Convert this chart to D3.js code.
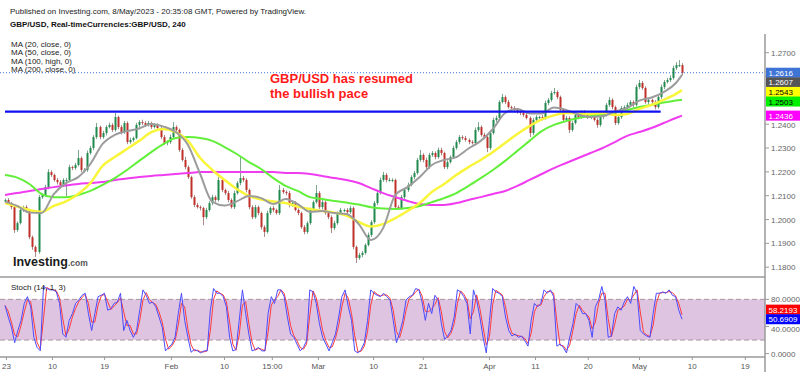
<!DOCTYPE html>
<html><head><meta charset="utf-8">
<script src="https://cdn.jsdelivr.net/npm/d3@7"></script>
<style>
body{margin:0;background:#fff}
svg{display:block}
text{font-family:"Liberation Sans",Arial,sans-serif}
</style>
</head><body>
<svg id="c" width="800" height="372"></svg>
<script>
// ---------- DATA ----------
const firstOpen = 1.2075;
const closes = [
1.2082,1.2069,1.2052,1.1956,1.1985,1.2040,1.2052,1.2040,1.1926,1.1885,
1.1864,1.2094,1.2102,1.2136,1.2199,1.2187,1.2166,1.2157,1.2145,1.2166,
1.2166,1.2220,1.2216,1.2229,1.2258,1.2208,1.2208,1.2279,1.2300,1.2346,
1.2388,1.2346,1.2363,1.2388,1.2397,1.2376,1.2430,1.2388,1.2367,1.2405,
1.2325,1.2334,1.2342,1.2397,
1.2409,1.2405,1.2397,1.2405,1.2388,1.2397,1.2384,1.2346,1.2321,1.2325,
1.2346,1.2388,1.2376,1.2292,1.2250,1.2220,1.2178,1.2094,1.2061,1.2052,
1.2048,1.2010,1.2040,1.2069,1.2094,1.2082,1.2166,1.2124,1.2111,1.2082,
1.2052,1.2111,1.2153,1.2174,1.2166,1.2124,1.2052,1.2010,1.2052,1.2027,
1.1968,1.1948,1.2027,1.2048,1.2040,
1.2027,1.2124,1.2115,1.2111,1.2061,1.2069,1.2040,1.2027,1.1968,1.1948,
1.1985,1.2040,1.2073,1.2111,1.2052,1.2073,1.2027,1.2010,1.1964,1.1985,
1.2027,1.2040,1.2040,1.2031,1.2048,1.1885,1.1839,1.1851,1.1860,1.1893,
1.1935,1.1989,1.2069,1.2111,1.2166,1.2187,1.2166,1.2166,1.2166,1.2052,
1.2048,1.2094,
1.2124,1.2145,1.2178,1.2195,1.2250,1.2271,1.2250,1.2220,1.2271,1.2279,
1.2262,1.2292,1.2279,1.2220,1.2241,1.2262,1.2300,1.2325,1.2346,1.2342,
1.2334,1.2325,1.2321,1.2376,1.2388,1.2355,1.2346,1.2300,1.2363,1.2418,
1.2426,1.2493,1.2514,1.2493,1.2472,1.2468,1.2460,1.2451,1.2447,1.2439,
1.2426,1.2363,1.2418,1.2430,
1.2430,1.2426,1.2489,1.2502,1.2531,1.2535,1.2514,1.2460,1.2418,1.2426,
1.2376,1.2405,1.2439,1.2430,1.2451,1.2439,1.2430,1.2447,1.2418,1.2397,
1.2430,1.2439,1.2481,1.2502,1.2472,1.2405,1.2430,1.2468,1.2472,1.2481,
1.2493,1.2481,1.2556,1.2573,1.2552,1.2493,1.2502,1.2493,1.2472,1.2514,
1.2556,1.2577,1.2585,1.2594,1.2636,1.2648,1.2648,1.2616
];
// wick lengths in pips above max(open,close) / below min(open,close)
const upperWick = [
6,8,5,10,7,9,6,8,5,7, 6,9,8,10,12,7,6,8,9,7, 8,10,6,9,34,7,8,10,9,8,
17,6,9,8,10,7,17,6,8,9, 7,10,6,9,8,10,7,9,6,8, 7,6,9,8,10,21,7,6,8,13,
7,6,8,9,7,6,9,8,10,7, 12,8,6,9,7,10,8,88,9,7, 6,8,9,7,6,8,10,7,9,6,
21,8,7,9,6,8,7,6,9,8, 10,7,34,8,9,7,6,8,10,7, 9,6,8,10,7,6,9,8,7,10,
8,9,12,10,13,8,9,7,6,8, 9,7,10,8,9,8,21,7,10,9, 8,7,10,9,6,8,7,10,9,8,
7,9,6,8,10,21,7,9,6,8, 9,10,8,13,7,9,6,8,7,9, 6,8,7,9,8,6,9,10,8,9,
17,7,6,8,9,7,8,10,9,7, 8,6,9,7,8,10,9,8,12,7, 6,9,8,7,9,8,7,10,13,8,
7,9,6,8,9,10,8,9,11,10, 12,21,8
];
const lowerWick = [
8,6,9,12,7,6,8,10,9,12, 21,8,7,6,9,8,7,10,8,9, 70,8,9,7,6,10,12,8,7,9,
8,9,7,10,6,8,7,9,10,8, 9,7,8,6,10,8,9,7,8,6, 8,9,7,10,8,6,9,8,7,9,
8,7,9,6,10,34,8,7,9,8, 7,9,8,10,6,8,7,9,8,10, 9,8,7,9,10,21,7,8,9,6,
8,7,9,10,8,6,9,7,10,8, 7,9,6,8,10,7,9,21,8,7, 6,9,8,7,10,21,8,9,7,6,
8,7,9,6,8,10,7,9,12,8, 7,9,8,6,9,7,8,10,9,7, 8,9,7,10,8,9,6,8,7,9,
8,7,9,6,10,8,7,9,17,8, 7,9,8,6,9,7,8,10,7,9, 8,6,17,9,7,8,10,7,9,8,
7,9,8,10,7,13,8,6,9,7, 10,8,9,7,12,8,9,7,8,10, 9,7,8,6,9,8,10,7,9,8,
7,9,8,10,7,8,9,6,8,7, 9,8,10
];
// moving averages sampled every maStep bars (last point = last bar)
const maStep = 4;
const ma20 = [
1.2074,1.2057,1.2029,1.2027,1.2107,1.2153,1.2178,1.2233,1.2317,1.2355,
1.2371,1.2382,1.2401,1.2390,1.2367,1.2313,1.2191,1.2074,1.2059,1.2076,
1.2099,1.2090,1.2065,1.2086,1.2065,1.2032,1.2036,1.2027,1.2023,1.1981,
1.1914,1.1964,1.2103,1.2136,1.2178,1.2229,1.2250,1.2262,1.2298,1.2330,
1.2380,1.2447,1.2464,1.2445,1.2445,1.2470,1.2460,1.2441,1.2430,1.2434,
1.2453,1.2468,1.2499,1.2512,1.2535,1.2573,1.2607];
const ma50 = [
1.2069,1.2055,1.2040,1.2032,1.2057,1.2076,1.2107,1.2153,1.2225,1.2262,
1.2296,1.2330,1.2367,1.2380,1.2367,1.2330,1.2258,1.2208,1.2166,1.2128,
1.2099,1.2084,1.2076,1.2069,1.2055,1.2044,1.2036,1.2029,1.2017,1.1990,
1.1971,1.1981,1.2006,1.2036,1.2069,1.2116,1.2149,1.2187,1.2220,1.2250,
1.2283,1.2321,1.2359,1.2392,1.2420,1.2437,1.2447,1.2445,1.2443,1.2447,
1.2439,1.2443,1.2464,1.2481,1.2502,1.2527,1.2543];
const ma100 = [
1.2187,1.2176,1.2149,1.2107,1.2094,1.2094,1.2103,1.2120,1.2145,1.2174,
1.2208,1.2246,1.2283,1.2317,1.2342,1.2346,1.2342,1.2330,1.2304,1.2275,
1.2241,1.2212,1.2174,1.2141,1.2120,1.2094,1.2086,1.2078,1.2071,1.2063,
1.2052,1.2046,1.2044,1.2048,1.2057,1.2073,1.2090,1.2111,1.2141,1.2174,
1.2208,1.2246,1.2288,1.2330,1.2371,1.2397,1.2413,1.2426,1.2434,1.2441,
1.2449,1.2460,1.2472,1.2481,1.2491,1.2499,1.2503];
const ma200 = [
1.2103,1.2111,1.2120,1.2128,1.2136,1.2143,1.2149,1.2153,1.2157,1.2166,
1.2172,1.2178,1.2183,1.2187,1.2191,1.2195,1.2199,1.2199,1.2199,1.2199,
1.2199,1.2199,1.2199,1.2195,1.2195,1.2191,1.2183,1.2174,1.2166,1.2153,
1.2132,1.2111,1.2094,1.2078,1.2065,1.2061,1.2061,1.2069,1.2082,1.2094,
1.2107,1.2120,1.2141,1.2166,1.2191,1.2216,1.2237,1.2258,1.2279,1.2300,
1.2325,1.2351,1.2367,1.2384,1.2405,1.2426,1.2436];
// Stochastic %K (14,1,3), spread evenly over the same bars
const stochK = [
71,54,39,16,34,49,74,84,69,24, 9,4,99,96,94,94,91,74,29,24,
49,59,74,79,86,89,59,34,59,84, 86,89,64,66,74,76,89,34,49,34,
24,34,64,94,86,74,76,69,54,39, 4,9,14,24,59,89,49,24,2,6,
4,1,4,4,64,96,89,89,84,69, 24,4,6,49,94,59,29,4,6,9,
4,4,59,84,74,94,94,84,54,29, 24,14,4,9,19,94,91,74,44,24,
14,4,16,29,54,84,94,69,49,4, 1,6,16,49,94,89,86,84,89,84,
79,49,16,31,
49,79,84,86,96,94,76,49,74,59, 86,79,44,21,26,34,54,94,91,84,
74,29,94,79,54,24,1,49,96,91, 89,84,54,34,26,29,24,26,19,11,
49,74,69,74,94,89,94,84,11,14, 9,1,24,44,74,69,59,59,49,24,
69,79,99,79,24,26,59,69,64,76, 84,74,99,89,34,29,26,24,59,89,
89,91,89,94,86,84,64,50.6909];
const stochLast = [58.2193, 50.6909]; // %D, %K
const resistance = {price: 1.2453, from: 0, to: 215};
const priceTicks = [1.18,1.19,1.20,1.21,1.22,1.23,1.24,1.25,1.26,1.27];
const stochTicks = [0,40,80];
const stochBand = [20,80];
const dateLabels = ["23","10","19","Feb","10","15:00","Mar","10","21","Apr","11","20","May","10","19"];
const dateBars  = [0.3,15.4,32.5,54.4,71.8,87.5,102.6,120.7,137.0,158.7,173.8,191.1,207.9,225.2,242.6];
const maLegend = ["MA (20, close, 0)","MA (50, close, 0)","MA (100, high, 0)","MA (200, close, 0)"];

// ---------- CHART ----------
const svg = d3.select("#c");
const axisX = 765, mainTop = 34, sepY = 277, dateAxisY = 357;
const N = closes.length;
const x = d3.scaleLinear().domain([0, N-1]).range([5, 682]);
const y = d3.scaleLinear().domain([1.18, 1.27]).range([267.2, 52.7]);
const ys = d3.scaleLinear().domain([0,100]).range([353.6, 285.8]);

svg.append("rect").attr("width",800).attr("height",372).attr("fill","#fff");

// header
svg.append("text").attr("x",10).attr("y",13.5).attr("font-size",8).attr("fill","#222")
  .text("Published on Investing.com, 8/May/2023 - 20:35:08 GMT, Powered by TradingView.");
svg.append("text").attr("x",10).attr("y",27).attr("font-size",8).attr("font-weight","bold").attr("fill","#111")
  .text("GBP/USD, Real-timeCurrencies:GBP/USD, 240");
svg.append("g").selectAll("text").data(maLegend).join("text")
  .attr("x",11).attr("y",(d,i)=>47.3+i*8.1).attr("font-size",8).attr("fill","#222").text(d=>d);

// clip
svg.append("defs").append("clipPath").attr("id","mainclip")
  .append("rect").attr("x",0).attr("y",mainTop).attr("width",axisX).attr("height",sepY-mainTop);
const main = svg.append("g").attr("clip-path","url(#mainclip)");

// current price dotted line
const lastClose = closes[N-1];
main.append("line").attr("x1",0).attr("x2",axisX).attr("y1",y(lastClose)).attr("y2",y(lastClose))
  .attr("stroke","#3d74d6").attr("stroke-width",1).attr("stroke-dasharray","1,2");

// candles
const candles = closes.map((c,i)=>{
  const o = i===0 ? firstOpen : closes[i-1];
  return {i,o,c,h:Math.max(o,c)+upperWick[i]/1e4,l:Math.min(o,c)-lowerWick[i]/1e4};
});
const cg = main.append("g");
cg.selectAll("line").data(candles).join("line")
  .attr("x1",d=>Math.round(x(d.i))+0.5).attr("x2",d=>Math.round(x(d.i))+0.5)
  .attr("y1",d=>y(d.h)).attr("y2",d=>y(d.l))
  .attr("stroke",d=>d.c>=d.o?"#7fa58f":"#a98a88").attr("stroke-width",1);
cg.selectAll("rect").data(candles).join("rect")
  .attr("x",d=>Math.round(x(d.i))-0.5).attr("width",2)
  .attr("y",d=>y(Math.max(d.o,d.c)))
  .attr("height",d=>Math.max(1,Math.abs(y(d.o)-y(d.c))))
  .attr("fill",d=>d.c>=d.o?"#1f8a4c":"#c0302a");

// moving averages
function maLine(arr,color,w){
  const pts = arr.map((v,k)=>[Math.min(k*maStep,N-1),v]);
  const line = d3.line().x(d=>x(d[0])).y(d=>y(d[1])).curve(d3.curveMonotoneX);
  main.append("path").datum(pts).attr("d",line).attr("fill","none")
    .attr("stroke",color).attr("stroke-width",w).attr("stroke-linejoin","round");
}
maLine(ma200,"#f03cf0",2);
maLine(ma100,"#62ef3a",2);
maLine(ma50,"#f8f53a",2.5);
maLine(ma20,"#9c9c9c",2);

// resistance line
main.append("line").attr("x1",x(resistance.from)).attr("x2",x(resistance.to))
  .attr("y1",y(resistance.price)).attr("y2",y(resistance.price))
  .attr("stroke","#1010f0").attr("stroke-width",2.2);

// annotation
const ann = svg.append("text").attr("font-size",13).attr("font-weight","bold").attr("fill","#ff1a1a");
ann.append("tspan").attr("x",270).attr("y",83).text("GBP/USD has resumed");
ann.append("tspan").attr("x",270).attr("y",98).text("the bullish pace");

// logo
const logo = svg.append("text").attr("x",13).attr("y",266).attr("font-size",12.5).attr("font-weight","bold").attr("fill","#1a1a1a");
logo.append("tspan").text("Investing");
logo.append("tspan").attr("font-size",8.5).attr("fill","#555").text(".com");

// ---------- stochastic panel ----------
svg.append("rect").attr("x",0).attr("width",axisX).attr("y",ys(stochBand[1]))
  .attr("height",ys(stochBand[0])-ys(stochBand[1])).attr("fill","#dfc4e2");
svg.append("g").selectAll("line").data(stochBand).join("line")
  .attr("x1",0).attr("x2",axisX).attr("y1",d=>ys(d)).attr("y2",d=>ys(d))
  .attr("stroke","#a6969f").attr("stroke-width",1).attr("stroke-dasharray","5,3");
const nK = stochK.length;
const kx = j => x(j*(N-1)/(nK-1));
const stochD = stochK.map((v,j)=> j===0 ? v : (stochK[j-1]+v)/2);
const sl = d3.line().x((d,j)=>kx(j)).y(d=>ys(d));
svg.append("path").datum(stochD).attr("d",sl).attr("fill","none").attr("stroke","#ff3b3b").attr("stroke-width",1);
svg.append("path").datum(stochK).attr("d",sl).attr("fill","none").attr("stroke","#4b4bff").attr("stroke-width",1);
svg.append("text").attr("x",11).attr("y",290.3).attr("font-size",8).attr("fill","#222").text("Stoch (14, 1, 3)");

// ---------- axes ----------
svg.append("line").attr("x1",0).attr("x2",axisX).attr("y1",sepY).attr("y2",sepY).attr("stroke","#9a9a9a").attr("stroke-width",1.5);
svg.append("line").attr("x1",0).attr("x2",axisX).attr("y1",dateAxisY).attr("y2",dateAxisY).attr("stroke","#9a9a9a").attr("stroke-width",1.5);
svg.append("line").attr("x1",axisX).attr("x2",axisX).attr("y1",mainTop).attr("y2",372).attr("stroke","#9a9a9a").attr("stroke-width",1.5);

// date axis
const xa = svg.append("g").attr("transform",`translate(0,${dateAxisY})`)
  .call(d3.axisBottom(x).tickValues(dateBars).tickFormat((d,i)=>dateLabels[i]).tickSize(3).tickPadding(3));
xa.select(".domain").remove();
xa.selectAll("line").attr("stroke","#9a9a9a");
xa.selectAll("text").attr("font-size",8).attr("fill","#555").attr("font-family","Liberation Sans, Arial, sans-serif");

// label boxes
function placeBoxes(items, scale, gap, direction){
  items.forEach(d=>d.y=scale(d.v));
  items.sort((a,b)=>a.y-b.y);
  if(direction>0){
    for(let i=1;i<items.length;i++) if(items[i].y-items[i-1].y<gap) items[i].y=items[i-1].y+gap;
  } else {
    for(let i=items.length-2;i>=0;i--) if(items[i+1].y-items[i].y<gap) items[i].y=items[i+1].y-gap;
  }
  return items;
}
function tickLabels(ticks, scale, fmt, boxes, gap){
  const g = svg.append("g");
  ticks.forEach(t=>{
    let ty = scale(t);
    g.append("line").attr("x1",axisX).attr("x2",axisX+4).attr("y1",ty).attr("y2",ty).attr("stroke","#9a9a9a");
    let hide=false;
    boxes.forEach(b=>{
      const d = ty-b.y;
      if(Math.abs(d)<6) hide=true;
      else if(Math.abs(d)<gap) ty = b.y+Math.sign(d)*gap;
    });
    if(!hide) g.append("text").attr("x",axisX+6).attr("y",ty+3).attr("font-size",8).attr("fill","#666").text(fmt(t));
  });
}
function drawBoxes(items,fmt){
  const g = svg.append("g");
  items.forEach(b=>{
    g.append("rect").attr("x",axisX+1).attr("y",b.y-5).attr("width",34).attr("height",10).attr("fill",b.fill);
    g.append("text").attr("x",axisX+3.5).attr("y",b.y+3).attr("font-size",8).attr("fill",b.color).text(fmt(b.v));
  });
}
const f4 = d3.format(".4f");
const priceBoxes = placeBoxes([
  {v:lastClose, fill:"#3d74d6", color:"#fff"},
  {v:ma20[ma20.length-1], fill:"#555555", color:"#fff"},
  {v:ma50[ma50.length-1], fill:"#ffff00", color:"#000"},
  {v:ma100[ma100.length-1], fill:"#00f000", color:"#000"},
  {v:ma200[ma200.length-1], fill:"#ff00ff", color:"#fff"}
], y, 9.6, 1);
const stochBoxes = placeBoxes([
  {v:stochLast[0], fill:"#ff0000", color:"#fff"},
  {v:stochLast[1], fill:"#0000ff", color:"#fff"}
], ys, 9.6, -1);
tickLabels(priceTicks, y, f4, priceBoxes, 9.6);
tickLabels(stochTicks, ys, f4, stochBoxes, 9.6);
drawBoxes(priceBoxes,f4);
drawBoxes(stochBoxes,f4);
</script>
</body></html>
